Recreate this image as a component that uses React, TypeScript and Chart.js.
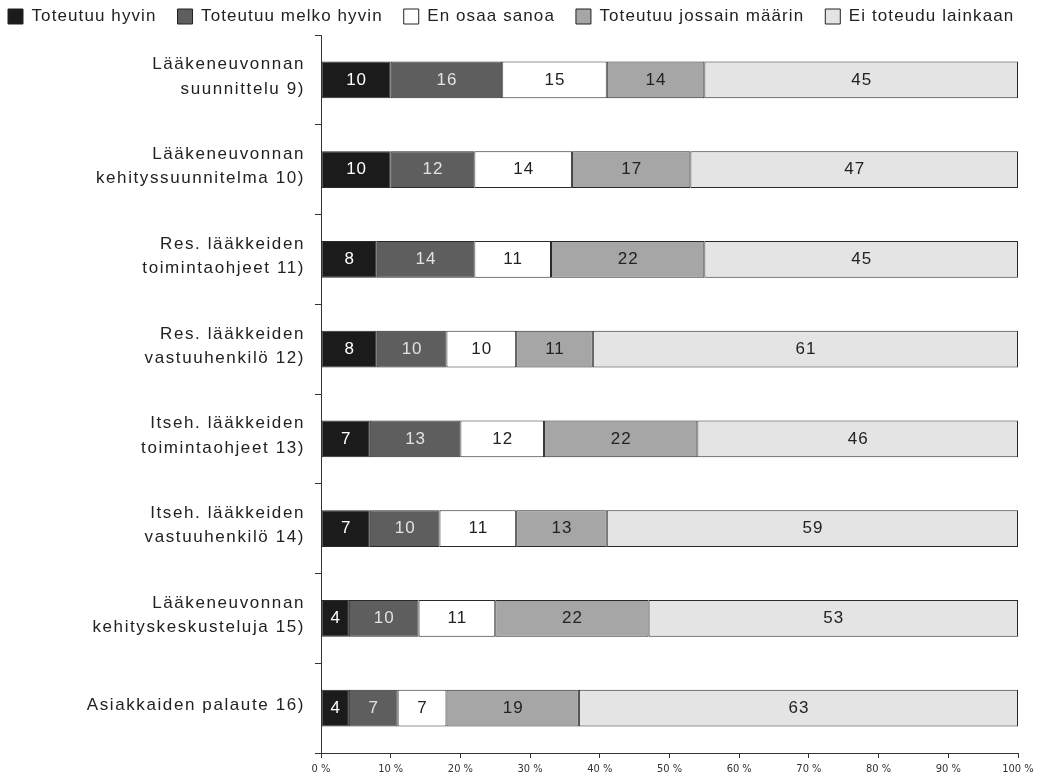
import React, { useEffect, useRef } from "react";
import { Chart, registerables } from "chart.js";

Chart.register(...registerables);

const categories: string[][] = [
  ["Lääkeneuvonnan", "suunnittelu 9)"],
  ["Lääkeneuvonnan", "kehityssuunnitelma 10)"],
  ["Res. lääkkeiden", "toimintaohjeet 11)"],
  ["Res. lääkkeiden", "vastuuhenkilö 12)"],
  ["Itseh. lääkkeiden", "toimintaohjeet 13)"],
  ["Itseh. lääkkeiden", "vastuuhenkilö 14)"],
  ["Lääkeneuvonnan", "kehityskeskusteluja 15)"],
  ["Asiakkaiden palaute 16)"],
];

const seriesNames = [
  "Toteutuu hyvin",
  "Toteutuu melko hyvin",
  "En osaa sanoa",
  "Toteutuu jossain määrin",
  "Ei toteudu lainkaan",
];

const hyvin = [10, 10, 8, 8, 7, 7, 4, 4];
const melkoHyvin = [16, 12, 14, 10, 13, 10, 10, 7];
const enOsaa = [15, 14, 11, 10, 12, 11, 11, 7];
const jossain = [14, 17, 22, 11, 22, 13, 22, 19];
const eiLainkaan = [45, 47, 45, 61, 46, 59, 53, 63];

const xTicks = [0, 10, 20, 30, 40, 50, 60, 70, 80, 90, 100];

const fills = ["#1b1b1b", "#5e5e5e", "#ffffff", "#a6a6a6", "#e4e4e4"];
const labelColors = ["#ffffff", "#e2e2e2", "#222222", "#222222", "#222222"];

const FONT = "'Liberation Sans', Arial, sans-serif";
const NARROW = "'Liberation Sans Narrow', 'DejaVu Sans Condensed', Arial, sans-serif";
const SPACING = "1.6px";
const LEGEND_SPACING = "1.1px";

const withSpacing = (ctx: any, sp: string, fn: () => void) => {
  const prev = ctx.letterSpacing;
  ctx.letterSpacing = sp;
  fn();
  ctx.letterSpacing = prev;
};

const spacingPlugin = {
  id: "spacing",
  afterInit(chart: any) {
    const lg = chart.legend;
    if (lg && !lg._spPatched) {
      const f = lg.fit.bind(lg);
      lg.fit = () => withSpacing(chart.ctx, LEGEND_SPACING, f);
      const d = lg.draw.bind(lg);
      lg.draw = () => withSpacing(chart.ctx, LEGEND_SPACING, d);
      lg._spPatched = true;
    }
  },
  beforeUpdate(chart: any) {
    chart.ctx.letterSpacing = SPACING;
  },
  beforeLayout(chart: any) {
    chart.ctx.letterSpacing = SPACING;
  },
  beforeDraw(chart: any) {
    chart.ctx.letterSpacing = SPACING;
  },
};

const valueLabels = {
  id: "valueLabels",
  afterDatasetsDraw(chart: any) {
    const ctx = chart.ctx;
    ctx.save();
    ctx.letterSpacing = "1px";
    ctx.font = `17px ${FONT}`;
    ctx.textAlign = "center";
    ctx.textBaseline = "middle";
    chart.data.datasets.forEach((ds: any, di: number) => {
      const meta = chart.getDatasetMeta(di);
      meta.data.forEach((el: any, i: number) => {
        const v = ds.data[i];
        const left = Math.min(el.x, el.base);
        const right = Math.max(el.x, el.base);
        ctx.fillStyle = labelColors[di];
        ctx.fillText(String(v), (left + right) / 2 + 0.5, el.y);
      });
    });
    ctx.restore();
  },
};

export default function App() {
  const ref = useRef<HTMLCanvasElement | null>(null);
  useEffect(() => {
    if (!ref.current) return;
    const all = [hyvin, melkoHyvin, enOsaa, jossain, eiLainkaan];
    const chart = new Chart(ref.current, {
      type: "bar",
      data: {
        labels: categories,
        datasets: all.map((d, i) => ({
          label: seriesNames[i],
          data: d,
          backgroundColor: fills[i],
          borderColor: "#2a2a2a",
          borderWidth: 1,
          borderSkipped: false,
          barPercentage: 0.41,
          categoryPercentage: 1,
        })),
      },
      options: {
        indexAxis: "y",
        animation: false,
        responsive: false,
        maintainAspectRatio: false,
        layout: { padding: { top: -13, right: 0, bottom: 0, left: -13 } },
        plugins: {
          tooltip: { enabled: false },
          legend: {
            position: "top",
            align: "start",
            labels: {
              boxWidth: 15,
              boxHeight: 15,
              padding: 21,
              color: "#222",
              font: { family: FONT, size: 17 },
              generateLabels: (c: any) =>
                c.data.datasets.map((ds: any, i: number) => ({
                  text: ds.label,
                  fillStyle: fills[i],
                  strokeStyle: "#222",
                  lineWidth: 1,
                  datasetIndex: i,
                  fontColor: "#222",
                })),
            },
          },
        },
        scales: {
          x: {
            stacked: true,
            min: 0,
            max: 100,
            afterBuildTicks: (s: any) => {
              s.ticks = xTicks.map((v) => ({ value: v }));
            },
            afterFit: (s: any) => {
              s.height = 29;
              s.paddingRight = 27;
              s.paddingLeft = 0;
              if (!s._noSpacingPatch) {
                const orig = s.drawLabels.bind(s);
                s.drawLabels = (area: any) => withSpacing(s.ctx, "0px", () => orig(area));
                s._noSpacingPatch = true;
              }
            },
            ticks: {
              callback: (v: any) => `${v} %`,
              color: "#333",
              font: { family: NARROW, size: 11 },
              padding: 5,
              maxRotation: 0,
              autoSkip: false,
            },
            grid: {
              drawOnChartArea: false,
              drawTicks: true,
              tickLength: 5,
              color: "#333",
            },
            border: { display: true, color: "#333", width: 1 },
          },
          y: {
            stacked: true,
            afterFit: (s: any) => {
              s.width = 334;
              s.paddingTop = 0;
              s.paddingBottom = 0;
            },
            ticks: {
              color: "#222",
              font: { family: FONT, size: 17, lineHeight: 1.42 },
              padding: 10,
              labelOffset: -3,
              autoSkip: false,
            },
            grid: {
              drawOnChartArea: false,
              drawTicks: true,
              tickLength: 6,
              offset: true,
              color: "#333",
            },
            border: { display: true, color: "#333", width: 1 },
          },
        },
      },
      plugins: [spacingPlugin, valueLabels],
    });
    return () => chart.destroy();
  }, []);
  return (
    <div style={{ position: "fixed", left: 0, top: 0, width: 1045, height: 782, background: "#fff" }}>
      <canvas ref={ref} width={1045} height={782} style={{ display: "block" }} />
    </div>
  );
}
